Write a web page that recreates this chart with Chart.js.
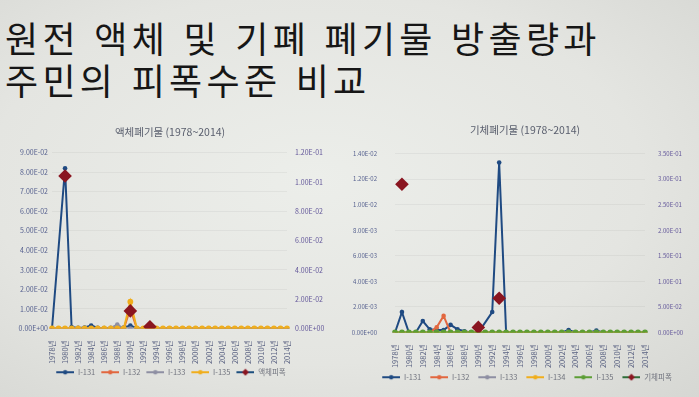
<!DOCTYPE html>
<html lang="ko">
<head>
<meta charset="utf-8">
<title>원전 액체 및 기체 폐기물 방출량과 주민의 피폭수준 비교</title>
<script src="https://cdn.jsdelivr.net/npm/chart.js@4.4.0/dist/chart.umd.min.js"></script>
<style>
  html, body { margin: 0; padding: 0; width: 699px; height: 397px; overflow: hidden; }
  body {
    position: relative;
    background: radial-gradient(ellipse at 45% 45%, #eceeea 0%, #e4e5e1 60%, #d6d7d3 100%);
    font-family: 'Noto Sans CJK KR', 'Noto Sans', sans-serif;
  }
  #title {
    position: absolute; left: 5px; top: 16px;
    font-size: 36px; line-height: 42px; font-weight: 400; color: #161616;
    letter-spacing: 4.3px; white-space: nowrap;
  }
  .box { position: absolute; }
  #liquidBox { left: 0; top: 120px; width: 340px; height: 270px; }
  #gasBox { left: 345px; top: 118px; width: 360px; height: 277px; }
</style>
</head>
<body>
<div id="title">원전 액체 및 기폐 폐기물 방출량과<br>주민의 피폭수준 비교</div>
<div class="box" id="liquidBox"><canvas id="liquid"></canvas></div>
<div class="box" id="gasBox"><canvas id="gas"></canvas></div>
<script>
// years 1978 ~ 2014
const years = [
  1978, 1979, 1980, 1981, 1982, 1983, 1984, 1985, 1986, 1987,
  1988, 1989, 1990, 1991, 1992, 1993, 1994, 1995, 1996, 1997,
  1998, 1999, 2000, 2001, 2002, 2003, 2004, 2005, 2006, 2007,
  2008, 2009, 2010, 2011, 2012, 2013, 2014
];
const yearLabels = years.map(y => y + '년');

// 액체폐기물
const liquidI131 = [0, null, 0.082, 0.0008, 0.0003, 0.0005, 0.0015, 0.0004, 0.0002, 0.0002,
  0.0003, 0.0005, 0.0015, 0.0002, 0, 0, 0, 0, 0, 0,
  0, 0, 0, 0, 0, 0, 0, 0, 0, 0,
  0, 0, 0, 0, 0, 0, 0];
const liquidI132 = [0, 0, 0, 0, 0, 0, 0, 0, 0, 0,
  0, 0, 0.010, 0, 0, 0, 0, 0, 0, 0,
  0, 0, 0, 0, 0, 0, 0, 0, 0, 0,
  0, 0, 0, 0, 0, 0, 0];
const liquidI133 = [0, 0, 0, 0, 0, 0, 0, 0, 0, 0.0003,
  0.002, 0, 0, 0, 0, 0, 0, 0, 0, 0,
  0, 0, 0, 0, 0, 0, 0, 0, 0, 0,
  0, 0, 0, 0, 0, 0, 0];
const liquidI135 = [0, 0, 0, 0, 0, 0, 0, 0, 0, 0,
  0, 0, 0.0137, 0, 0, 0, 0, 0, 0, 0,
  0, 0, 0, 0, 0, 0, 0, 0, 0, 0,
  0, 0, 0, 0, 0, 0, 0];
const liquidDose = [null, null, 0.104, null, null, null, null, null, null, null,
  null, null, 0.012, null, null, 0.0012, null, null, null, null,
  null, null, null, null, null, null, null, null, null, null,
  null, null, null, null, null, null, null];

// 기체폐기물
const gasI131 = [0, 0.0016, 0, 0, 0.0009, 0.00025, 0.0002, 0.0002, 0.0006, 0.00025,
  0.0001, 0, 0, null, 0.0016, 0.0133, 0, 0, 0, 0,
  0, 0, 0, 0, 0, 0.0002, 0, 0, 0, 0.00015,
  0, 0, 0, 0, 0, 0, 0];
const gasI132 = [0, 0, 0, 0, 0, 0, 0.0004, 0.0013, 0, 0,
  0, 0, 0, 0, 0, 0, 0, 0, 0, 0,
  0, 0, 0, 0, 0, 0, 0, 0, 0, 0,
  0, 0, 0, 0, 0, 0, 0];
const gasI133 = [0, 0, 0, 0, 0, 0, 0, 0, 0, 0,
  0, 0, 0, 0, 0, 0, 0, 0, 0, 0,
  0, 0, 0, 0, 0, 0, 0, 0, 0, 0,
  0, 0, 0, 0, 0, 0, 0];
const gasI134 = [0, 0, 0, 0, 0, 0, 0, 0, 0, 0,
  0, 0, 0, 0, 0, 0, 0, 0, 0, 0,
  0, 0, 0, 0, 0, 0, 0, 0, 0, 0,
  0, 0, 0, 0, 0, 0, 0];
const gasI135 = [0, 0, 0, 0, 0, 0, 0, 0, 0, 0,
  0, 0, 0, 0, 0, 0, 0, 0, 0, 0,
  0, 0, 0, 0, 0, 0, 0, 0, 0, 0,
  0, 0, 0, 0, 0, 0, 0];
const gasDose = [null, 0.29, null, null, null, null, null, null, null, null,
  null, null, 0.010, null, null, 0.067, null, null, null, null,
  null, null, null, null, null, null, null, null, null, null,
  null, null, null, null, null, null, null];

// axis ranges [max, step]
const liquidLeftAxis = [0.09, 0.01];
const liquidRightAxis = [0.12, 0.02];
const gasLeftAxis = [0.014, 0.002];
const gasRightAxis = [0.35, 0.05];

const BLUE = '#1f4a82', ORANGE = '#e2673f', GRAY = '#8e8fa3', YELLOW = '#f0ae1c',
      GREEN = '#5c9e35', DOSE = '#8a1520';

Chart.defaults.font.family = "'Noto Sans CJK KR', 'Noto Sans', sans-serif";
Chart.defaults.animation = false;

// excel style 9.00E-02
function sci(v) {
  if (Math.abs(v) < 1e-12) return '0.00E+00';
  const parts = v.toExponential(2).split('e');
  const e = parseInt(parts[1], 10);
  return parts[0] + 'E' + (e < 0 ? '-' : '+') + String(Math.abs(e)).padStart(2, '0');
}

// legend icon: line with marker in the middle, 'gap' px of blank space on the left
function icon(lineColor, markerColor, diamond, gap) {
  const c = document.createElement('canvas');
  c.width = 18 + gap; c.height = 8;
  const ctx = c.getContext('2d');
  ctx.translate(gap, 0);
  ctx.strokeStyle = lineColor;
  ctx.lineWidth = 2;
  ctx.beginPath(); ctx.moveTo(0, 4); ctx.lineTo(18, 4); ctx.stroke();
  ctx.fillStyle = markerColor;
  ctx.beginPath();
  if (diamond) {
    ctx.moveTo(9, 0.5); ctx.lineTo(12.5, 4); ctx.lineTo(9, 7.5); ctx.lineTo(5.5, 4);
  } else {
    ctx.arc(9, 4, 2.2, 0, Math.PI * 2);
  }
  ctx.fill();
  return c;
}

function line(label, data, color, n, i, r) {
  return {
    label, data, yAxisID: 'y',
    borderColor: color, backgroundColor: color,
    borderWidth: 2, pointRadius: r || 2.3, pointBorderWidth: 0,
    tension: 0, spanGaps: true, order: n - i,
    iconLine: color, iconMark: color, iconDiamond: false
  };
}

function dose(label, data, lineColor, n, i) {
  return {
    label, data, yAxisID: 'y1', showLine: false,
    borderColor: DOSE, backgroundColor: DOSE,
    pointStyle: 'rectRot', pointRadius: 6.8, pointBorderWidth: 0,
    order: n - i,
    iconLine: lineColor, iconMark: DOSE, iconDiamond: true
  };
}

function makeChart(id, title, datasets, leftAxis, rightAxis, sizes) {
  const icons = datasets.map(ds => icon(ds.iconLine, ds.iconMark, ds.iconDiamond, sizes.gap));
  return new Chart(document.getElementById(id), {
    type: 'line',
    data: { labels: yearLabels, datasets },
    options: {
      responsive: true,
      maintainAspectRatio: false,
      layout: { padding: sizes.padding },
      plugins: {
        title: {
          display: true, text: title, color: '#5a5f6e',
          font: { size: 10.5, weight: 'normal' },
          padding: sizes.titlePad
        },
        tooltip: { enabled: false },
        legend: {
          position: 'bottom',
          labels: {
            usePointStyle: true, pointStyleWidth: 18 + sizes.gap,
            color: '#70737e', font: { size: 7.5 }, padding: sizes.legendPad,
            generateLabels: chart => chart.data.datasets.map((ds, i) => ({
              text: ds.label, pointStyle: icons[i],
              fillStyle: 'transparent', strokeStyle: 'transparent', lineWidth: 0,
              hidden: false, datasetIndex: i, fontColor: '#70737e'
            }))
          }
        }
      },
      scales: {
        x: {
          offset: false,
          grid: { display: false },
          border: { display: false },
          ticks: {
            autoSkip: false, minRotation: 90, maxRotation: 90,
            color: '#5d6584', font: { size: 7.5 }, padding: 4,
            callback: (v, i) => (i % 2 === 0 ? yearLabels[i] : '')
          },
          afterFit: s => { s.height = sizes.xh; }
        },
        y: {
          position: 'left', min: 0, max: leftAxis[0],
          grid: { color: 'rgba(0,0,0,0.045)', drawTicks: false },
          border: { display: false },
          ticks: { stepSize: leftAxis[1], color: '#56618f', font: { size: sizes.yfont }, padding: sizes.lpad, callback: sci },
          afterFit: s => { s.width = sizes.yl; }
        },
        y1: {
          position: 'right', min: 0, max: rightAxis[0],
          grid: { display: false, drawTicks: false },
          border: { display: false },
          ticks: { stepSize: rightAxis[1], color: '#63579a', font: { size: sizes.yfont }, padding: sizes.rpad, callback: sci },
          afterFit: s => { s.width = sizes.yr; }
        }
      }
    }
  });
}

makeChart('liquid', '액체폐기물 (1978~2014)', [
  line('I-131', liquidI131, BLUE, 5, 0),
  line('I-132', liquidI132, ORANGE, 5, 1),
  line('I-133', liquidI133, GRAY, 5, 2),
  line('I-135', liquidI135, YELLOW, 5, 3, 2.9),
  dose('액체피폭', liquidDose, '#1d4f7e', 5, 4)
], liquidLeftAxis, liquidRightAxis,
  { padding: { left: 0, right: 0, top: 0, bottom: 4 }, titlePad: { top: 6, bottom: 14 },
    xh: 36, yl: 52, yr: 53, lpad: 4, rpad: 8, yfont: 7, legendPad: 4, gap: 2 });

makeChart('gas', '기체폐기물 (1978~2014)', [
  line('I-131', gasI131, BLUE, 6, 0),
  line('I-132', gasI132, ORANGE, 6, 1),
  line('I-133', gasI133, GRAY, 6, 2),
  line('I-134', gasI134, YELLOW, 6, 3),
  line('I-135', gasI135, GREEN, 6, 4, 2.9),
  dose('기체피폭', gasDose, '#2f6e3a', 6, 5)
], gasLeftAxis, gasRightAxis,
  { padding: { left: 0, right: 0, top: 0, bottom: 4 }, titlePad: { top: 6, bottom: 17 },
    xh: 36, yl: 50, yr: 60, lpad: 18, rpad: 13, yfont: 6, legendPad: 5, gap: 4 });
</script>
</body>
</html>
